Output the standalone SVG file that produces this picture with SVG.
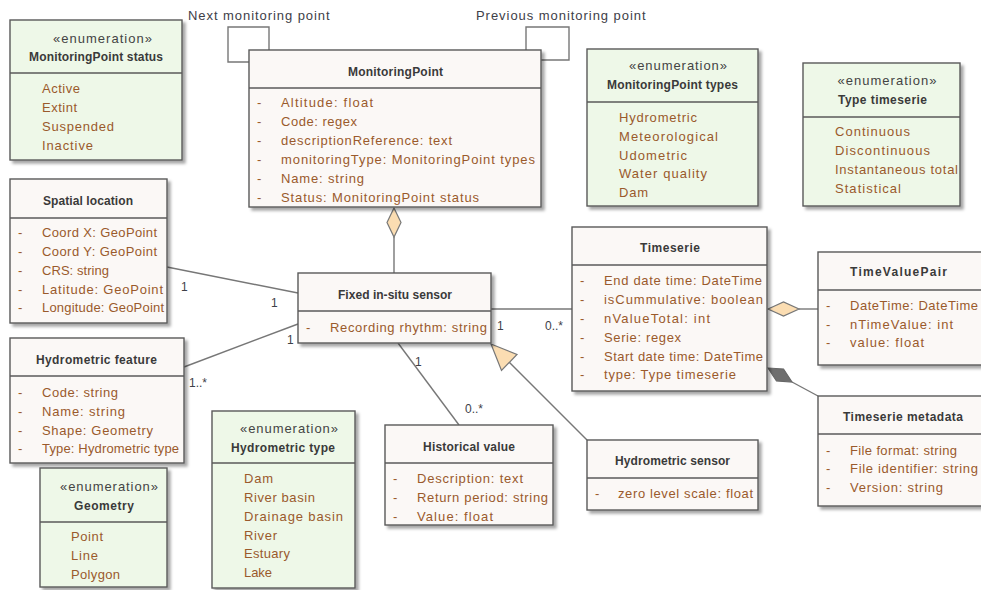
<svg xmlns="http://www.w3.org/2000/svg" width="981" height="590" viewBox="0 0 981 590">
  <defs>
    <filter id="shadow" x="-10%" y="-10%" width="130%" height="130%">
      <feDropShadow dx="3" dy="3" stdDeviation="1.6" flood-color="#000" flood-opacity="0.35"/>
    </filter>
    <style>
      .cls { fill: #FBF8F6; stroke: #5A5A5A; stroke-width: 1.4; }
      .enm { fill: #EEF8E8; stroke: #5A5A5A; stroke-width: 1.4; }
      .div { stroke: #5A5A5A; stroke-width: 1.4; fill: none; }
      .title { font-family: "Liberation Sans", Arial, sans-serif; font-size: 12px; font-weight: bold; fill: #3A3A3A; text-anchor: middle; }
      .stereo { font-family: "Liberation Sans", Arial, sans-serif; font-size: 13px; fill: #444; text-anchor: middle; }
      .attr { font-family: "Liberation Sans", Arial, sans-serif; font-size: 13px; fill: #9A5A2C; }
      .dash { font-family: "Liberation Sans", Arial, sans-serif; font-size: 13px; fill: #9A5A2C; }
      .lbl { font-family: "Liberation Sans", Arial, sans-serif; font-size: 13px; fill: #3E4048; letter-spacing: 0.4px; }
      .mult { font-family: "Liberation Sans", Arial, sans-serif; font-size: 12px; fill: #3E4048; }
      .edge { stroke: #777; stroke-width: 1.4; fill: none; }
      .hollow { fill: #FBDDB2; stroke: #777; stroke-width: 1.2; }
      .filled { fill: #6E6E6E; stroke: #666; stroke-width: 1.2; }
    </style>
  </defs>

  <rect width="981" height="590" fill="#FFFFFF"/>

  <!-- Associations, aggregations, compositions and generalization -->
  <g id="connectors">
    <!-- self associations on MonitoringPoint -->
    <polyline class="edge" points="269,50 269,27 228,27 228,62 249,62"/>
    <polyline class="edge" points="526,50 526,27 569,27 569,60 541,60"/>
    <text class="lbl" x="188" y="20" textLength="142">Next monitoring point</text>
    <text class="lbl" x="476" y="20" textLength="170">Previous monitoring point</text>

    <!-- MonitoringPoint <>— Fixed in-situ sensor -->
    <line class="edge" x1="394" y1="237" x2="394" y2="273"/>
    <polygon class="hollow" points="394,208 401,222.5 394,237 387,222.5"/>

    <!-- Spatial location — Fixed in-situ sensor -->
    <line class="edge" x1="167" y1="267" x2="298" y2="293"/>
    <text class="mult" x="181" y="291">1</text>
    <text class="mult" x="271" y="307">1</text>

    <!-- Hydrometric feature — Fixed in-situ sensor -->
    <line class="edge" x1="184" y1="367" x2="298" y2="324"/>
    <text class="mult" x="189" y="387">1..*</text>
    <text class="mult" x="287" y="344">1</text>

    <!-- Fixed in-situ sensor — Timeserie -->
    <line class="edge" x1="491" y1="309" x2="572" y2="309"/>
    <text class="mult" x="497" y="330">1</text>
    <text class="mult" x="545" y="330">0..*</text>

    <!-- Fixed in-situ sensor — Historical value -->
    <line class="edge" x1="398" y1="343" x2="459" y2="425"/>
    <text class="mult" x="415" y="366">1</text>
    <text class="mult" x="465" y="413">0..*</text>

    <!-- Hydrometric sensor generalizes Fixed in-situ sensor -->
    <line class="edge" x1="509" y1="362" x2="587" y2="440"/>
    <polygon class="hollow" points="491,344 501.5,370.5 517,354.5"/>

    <!-- Timeserie <>— TimeValuePair -->
    <line class="edge" x1="799" y1="309" x2="818" y2="309"/>
    <polygon class="hollow" points="768,309 783.5,302 799,309 783.5,316"/>

    <!-- Timeserie <#>— Timeserie metadata -->
    <line class="edge" x1="792" y1="382" x2="818" y2="396"/>
    <polygon class="filled" points="768,368 783.5,369 792,382 776.5,381"/>
  </g>

  <!-- Enumeration: MonitoringPoint status -->
  <g id="enum-monitoringpoint-status">
    <rect class="enm" x="10" y="20" width="172" height="140" filter="url(#shadow)"/>
    <line class="div" x1="10" y1="73" x2="182" y2="73"/>
    <text class="stereo" x="102.5" y="43" textLength="99">«enumeration»</text>
    <text class="title" x="96" y="61" textLength="134">MonitoringPoint status</text>
    <text class="attr" x="42" y="93" textLength="38">Active</text>
    <text class="attr" x="42" y="112" textLength="35">Extint</text>
    <text class="attr" x="42" y="131" textLength="72">Suspended</text>
    <text class="attr" x="42" y="150" textLength="51">Inactive</text>
  </g>

  <!-- Class: MonitoringPoint -->
  <g id="monitoring-point">
    <rect class="cls" x="249" y="50" width="292" height="157" filter="url(#shadow)"/>
    <line class="div" x1="249" y1="88" x2="541" y2="88"/>
    <text class="title" x="395.5" y="76" textLength="95">MonitoringPoint</text>
    <text class="dash" x="257" y="107">-</text>
    <text class="dash" x="257" y="126">-</text>
    <text class="dash" x="257" y="145">-</text>
    <text class="dash" x="257" y="164">-</text>
    <text class="dash" x="257" y="183">-</text>
    <text class="dash" x="257" y="202">-</text>
    <text class="attr" x="281" y="107" textLength="92">Altitude: float</text>
    <text class="attr" x="281" y="126" textLength="76">Code: regex</text>
    <text class="attr" x="281" y="145" textLength="171">descriptionReference: text</text>
    <text class="attr" x="281" y="164" textLength="254">monitoringType: MonitoringPoint types</text>
    <text class="attr" x="281" y="183" textLength="83">Name: string</text>
    <text class="attr" x="281" y="202" textLength="198">Status: MonitoringPoint status</text>
  </g>

  <!-- Enumeration: MonitoringPoint types -->
  <g id="enum-monitoringpoint-types">
    <rect class="enm" x="587" y="49" width="171" height="157" filter="url(#shadow)"/>
    <line class="div" x1="587" y1="102" x2="758" y2="102"/>
    <text class="stereo" x="678" y="70" textLength="98">«enumeration»</text>
    <text class="title" x="672.5" y="89" textLength="131">MonitoringPoint types</text>
    <text class="attr" x="619" y="122" textLength="78">Hydrometric</text>
    <text class="attr" x="619" y="141" textLength="99">Meteorological</text>
    <text class="attr" x="619" y="160" textLength="68">Udometric</text>
    <text class="attr" x="619" y="178" textLength="88">Water quality</text>
    <text class="attr" x="619" y="197" textLength="29">Dam</text>
  </g>

  <!-- Enumeration: Type timeserie -->
  <g id="enum-type-timeserie">
    <rect class="enm" x="803" y="63" width="157" height="143" filter="url(#shadow)"/>
    <line class="div" x1="803" y1="117" x2="960" y2="117"/>
    <text class="stereo" x="887" y="85" textLength="99">«enumeration»</text>
    <text class="title" x="882.5" y="104" textLength="89">Type timeserie</text>
    <text class="attr" x="835" y="136" textLength="75">Continuous</text>
    <text class="attr" x="835" y="155" textLength="95">Discontinuous</text>
    <text class="attr" x="835" y="174" textLength="123">Instantaneous total</text>
    <text class="attr" x="835" y="193" textLength="66">Statistical</text>
  </g>

  <!-- Class: Spatial location -->
  <g id="spatial-location">
    <rect class="cls" x="10" y="179" width="157" height="144" filter="url(#shadow)"/>
    <line class="div" x1="10" y1="218" x2="167" y2="218"/>
    <text class="title" x="88" y="205" textLength="90">Spatial location</text>
    <text class="dash" x="18" y="237">-</text>
    <text class="dash" x="18" y="256">-</text>
    <text class="dash" x="18" y="275">-</text>
    <text class="dash" x="18" y="294">-</text>
    <text class="dash" x="18" y="312">-</text>
    <text class="attr" x="42" y="237" textLength="115">Coord X: GeoPoint</text>
    <text class="attr" x="42" y="256" textLength="115">Coord Y: GeoPoint</text>
    <text class="attr" x="42" y="275" textLength="67">CRS: string</text>
    <text class="attr" x="42" y="294" textLength="121">Latitude: GeoPoint</text>
    <text class="attr" x="42" y="312" textLength="122">Longitude: GeoPoint</text>
  </g>

  <!-- Class: Hydrometric feature -->
  <g id="hydrometric-feature">
    <rect class="cls" x="10" y="338" width="174" height="125" filter="url(#shadow)"/>
    <line class="div" x1="10" y1="376" x2="184" y2="376"/>
    <text class="title" x="96.5" y="364" textLength="121">Hydrometric feature</text>
    <text class="dash" x="18" y="397">-</text>
    <text class="dash" x="18" y="416">-</text>
    <text class="dash" x="18" y="435">-</text>
    <text class="dash" x="18" y="453">-</text>
    <text class="attr" x="42" y="397" textLength="76">Code: string</text>
    <text class="attr" x="42" y="416" textLength="83">Name: string</text>
    <text class="attr" x="42" y="435" textLength="111">Shape: Geometry</text>
    <text class="attr" x="42" y="453" textLength="137">Type: Hydrometric type</text>
  </g>

  <!-- Enumeration: Geometry -->
  <g id="enum-geometry">
    <rect class="enm" x="40" y="468" width="127" height="119" filter="url(#shadow)"/>
    <line class="div" x1="40" y1="522" x2="167" y2="522"/>
    <text class="stereo" x="109" y="491" textLength="98">«enumeration»</text>
    <text class="title" x="104" y="510" textLength="60">Geometry</text>
    <text class="attr" x="71" y="541" textLength="32">Point</text>
    <text class="attr" x="71" y="560" textLength="27">Line</text>
    <text class="attr" x="71" y="579" textLength="49">Polygon</text>
  </g>

  <!-- Enumeration: Hydrometric type -->
  <g id="enum-hydrometric-type">
    <rect class="enm" x="212" y="411" width="143" height="177" filter="url(#shadow)"/>
    <line class="div" x1="212" y1="463" x2="355" y2="463"/>
    <text class="stereo" x="289" y="433" textLength="98">«enumeration»</text>
    <text class="title" x="283" y="452" textLength="104">Hydrometric type</text>
    <text class="attr" x="244" y="483" textLength="29">Dam</text>
    <text class="attr" x="244" y="502" textLength="71">River basin</text>
    <text class="attr" x="244" y="521" textLength="99">Drainage basin</text>
    <text class="attr" x="244" y="540" textLength="33">River</text>
    <text class="attr" x="244" y="558" textLength="46">Estuary</text>
    <text class="attr" x="244" y="577" textLength="28">Lake</text>
  </g>

  <!-- Class: Fixed in-situ sensor -->
  <g id="fixed-in-situ-sensor">
    <rect class="cls" x="298" y="273" width="193" height="70" filter="url(#shadow)"/>
    <line class="div" x1="298" y1="311" x2="491" y2="311"/>
    <text class="title" x="395" y="299" textLength="114">Fixed in-situ sensor</text>
    <text class="dash" x="306" y="332">-</text>
    <text class="attr" x="330" y="332" textLength="157">Recording rhythm: string</text>
  </g>

  <!-- Class: Timeserie -->
  <g id="timeserie">
    <rect class="cls" x="572" y="227" width="195" height="164" filter="url(#shadow)"/>
    <line class="div" x1="572" y1="265" x2="767" y2="265"/>
    <text class="title" x="670" y="252" textLength="60">Timeserie</text>
    <text class="dash" x="580" y="285">-</text>
    <text class="dash" x="580" y="304">-</text>
    <text class="dash" x="580" y="323">-</text>
    <text class="dash" x="580" y="342">-</text>
    <text class="dash" x="580" y="361">-</text>
    <text class="dash" x="580" y="379">-</text>
    <text class="attr" x="604" y="285" textLength="158">End date time: DateTime</text>
    <text class="attr" x="604" y="304" textLength="159">isCummulative: boolean</text>
    <text class="attr" x="604" y="323" textLength="106">nValueTotal: int</text>
    <text class="attr" x="604" y="342" textLength="77">Serie: regex</text>
    <text class="attr" x="604" y="361" textLength="159">Start date time: DateTime</text>
    <text class="attr" x="604" y="379" textLength="132">type: Type timeserie</text>
  </g>

  <!-- Class: TimeValuePair -->
  <g id="time-value-pair">
    <rect class="cls" x="818" y="252" width="172" height="113" filter="url(#shadow)"/>
    <line class="div" x1="818" y1="290" x2="990" y2="290"/>
    <text class="title" x="898.5" y="276" textLength="97">TimeValuePair</text>
    <text class="dash" x="826" y="310">-</text>
    <text class="dash" x="826" y="329">-</text>
    <text class="dash" x="826" y="347">-</text>
    <text class="attr" x="850" y="310" textLength="128">DateTime: DateTime</text>
    <text class="attr" x="850" y="329" textLength="103">nTimeValue: int</text>
    <text class="attr" x="850" y="347" textLength="74">value: float</text>
  </g>

  <!-- Class: Timeserie metadata -->
  <g id="timeserie-metadata">
    <rect class="cls" x="818" y="396" width="172" height="110" filter="url(#shadow)"/>
    <line class="div" x1="818" y1="434" x2="990" y2="434"/>
    <text class="title" x="903" y="421" textLength="120">Timeserie metadata</text>
    <text class="dash" x="826" y="455">-</text>
    <text class="dash" x="826" y="473">-</text>
    <text class="dash" x="826" y="492">-</text>
    <text class="attr" x="850" y="455" textLength="107">File format: string</text>
    <text class="attr" x="850" y="473" textLength="128">File identifier: string</text>
    <text class="attr" x="850" y="492" textLength="93">Version: string</text>
  </g>

  <!-- Class: Historical value -->
  <g id="historical-value">
    <rect class="cls" x="385" y="425" width="168" height="100" filter="url(#shadow)"/>
    <line class="div" x1="385" y1="463" x2="553" y2="463"/>
    <text class="title" x="469" y="451" textLength="92">Historical value</text>
    <text class="dash" x="393" y="483">-</text>
    <text class="dash" x="393" y="502">-</text>
    <text class="dash" x="393" y="521">-</text>
    <text class="attr" x="417" y="483" textLength="106">Description: text</text>
    <text class="attr" x="417" y="502" textLength="131">Return period: string</text>
    <text class="attr" x="417" y="521" textLength="76">Value: float</text>
  </g>

  <!-- Class: Hydrometric sensor -->
  <g id="hydrometric-sensor">
    <rect class="cls" x="587" y="440" width="171" height="70" filter="url(#shadow)"/>
    <line class="div" x1="587" y1="478" x2="758" y2="478"/>
    <text class="title" x="672.5" y="465" textLength="115">Hydrometric sensor</text>
    <text class="dash" x="595" y="498">-</text>
    <text class="attr" x="618" y="498" textLength="135">zero level scale: float</text>
  </g>
</svg>
